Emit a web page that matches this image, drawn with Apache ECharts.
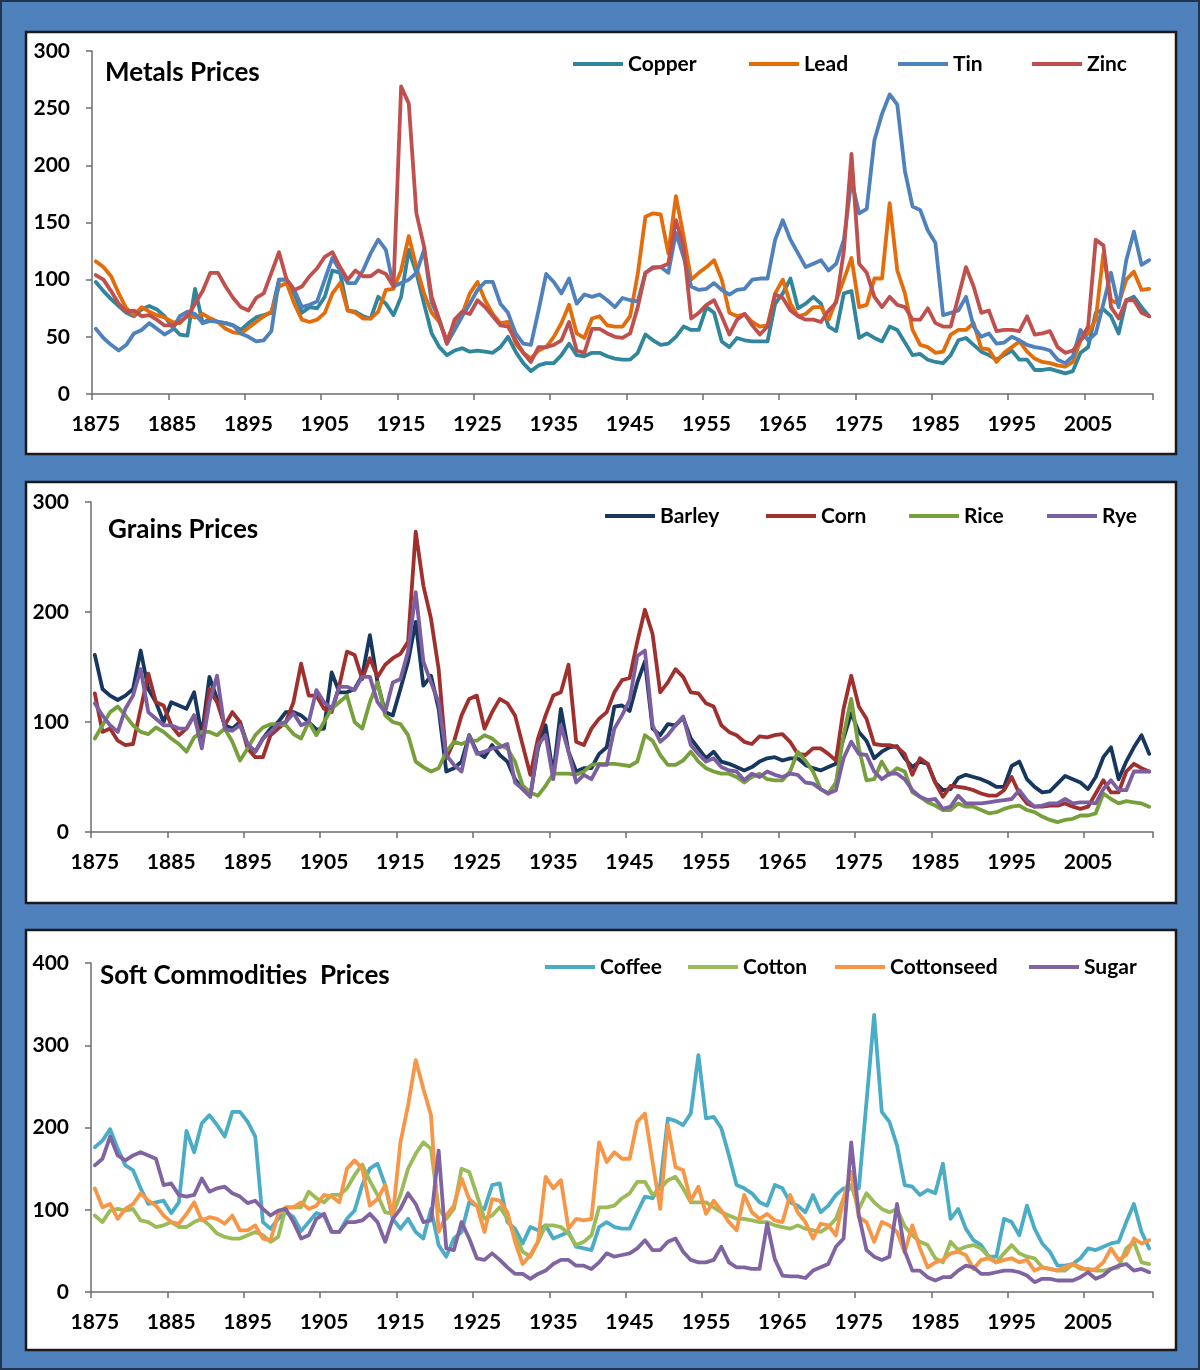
<!DOCTYPE html>
<html><head><meta charset="utf-8">
<script src="https://cdn.jsdelivr.net/npm/echarts@6/dist/echarts.min.js"></script>
<style>html,body{margin:0;padding:0;background:#4F81BD;}#c{width:1200px;height:1370px;}</style>
</head><body><div id="c"></div>
<script>
// ---- categories ----
const years = [];
for (let y = 1875; y <= 2013; y++) years.push(String(y));

// ---- Metals (rows of 10 years starting 1875) ----
const copper = [
98,90,83,77,71,68,74,77,74,68,
59,52,51,92,62,66,63,62,60,56,
62,67,69,71,100,100,88,71,76,75,
85,108,106,73,72,68,66,85,79,69,
85,126,106,79,53,41,34,38,40,37,
38,37,36,41,50,37,27,20,25,27,
27,34,44,34,33,36,36,33,31,30,
30,36,52,47,43,44,50,59,56,56,
76,71,46,41,49,47,46,46,46,79,
88,101,75,79,85,79,59,55,88,90,
49,53,49,46,59,56,45,34,35,30,
28,27,34,47,49,43,37,34,30,34,
38,30,30,21,21,22,20,18,20,36,
41,71,74,68,53,82,85,76,68];
const lead = [
116,111,103,88,75,69,76,72,69,67,
63,62,69,67,70,66,63,57,54,53,
58,63,68,72,94,97,79,65,63,65,
71,88,97,73,71,66,66,72,91,92,
108,138,111,88,71,63,47,62,70,88,
98,82,70,62,63,44,36,31,38,41,
50,62,78,53,49,66,68,60,59,59,
68,105,155,158,157,123,173,138,100,106,
111,117,100,71,68,70,63,59,60,88,
100,79,68,70,76,76,65,82,100,119,
76,78,101,101,167,108,88,56,43,41,
36,37,52,56,56,62,40,39,28,36,
41,46,37,31,28,27,25,24,28,47,
53,65,123,82,79,100,107,91,92];
const tin = [
57,49,43,38,43,53,56,62,57,52,
56,68,72,70,62,64,63,62,60,53,
50,46,47,55,100,100,91,76,78,81,
100,119,108,97,97,108,123,135,126,94,
97,100,106,126,80,65,44,56,68,79,
91,98,98,79,71,53,44,43,73,105,
98,88,101,79,87,85,87,82,76,84,
82,81,106,111,111,106,141,120,94,91,
92,97,91,87,91,92,100,101,101,135,
152,135,123,111,114,117,108,114,135,187,
158,162,222,245,262,253,195,164,161,143,
132,69,71,73,85,59,50,53,44,45,
50,47,43,41,40,38,30,27,33,56,
47,53,79,106,76,117,142,113,117];
const zinc = [
104,100,90,79,72,73,68,69,65,60,
60,63,68,79,90,106,106,94,84,76,
73,84,88,106,124,100,91,94,103,110,
120,124,111,100,108,103,103,108,105,94,
269,254,158,129,85,65,44,65,72,70,
82,76,68,60,59,47,36,28,41,41,
43,47,63,38,36,57,57,53,50,49,
53,76,106,110,111,114,152,129,66,71,
78,82,68,52,65,70,60,52,59,87,
84,73,68,65,65,63,73,80,125,210,
114,106,85,76,85,78,76,65,65,75,
62,59,59,85,111,94,71,73,55,56,
56,55,68,52,53,55,41,36,38,47,
59,135,130,76,66,82,82,71,68];

// ---- Grains ----
const barley = [
161,130,124,120,124,130,165,130,118,100,
118,115,112,127,88,141,121,97,94,100,
79,73,85,94,100,109,109,106,100,93,
94,145,127,127,130,142,179,136,109,106,
130,155,191,133,142,112,55,58,64,88,
73,68,79,70,64,48,39,33,76,97,
52,112,73,55,58,58,71,77,114,115,
110,136,155,94,88,98,97,104,85,76,
67,73,64,62,59,56,59,64,67,68,
65,67,67,61,58,56,59,62,85,108,
91,83,67,73,77,78,67,59,64,62,
45,38,39,49,52,50,48,45,41,41,
60,64,48,41,36,37,44,51,48,45,
39,50,68,77,48,64,77,88,71];
const corn = [
126,91,94,83,79,80,112,144,118,115,
97,88,94,106,82,130,118,97,109,100,
76,68,68,88,94,100,118,153,124,124,
112,109,133,164,161,139,158,141,152,158,
162,173,273,224,194,148,67,82,106,121,
124,94,109,121,117,106,79,52,85,106,
124,127,152,82,79,94,103,109,127,138,
140,173,202,180,127,136,148,141,127,126,
117,114,97,91,88,82,80,87,86,88,
89,82,71,70,76,76,71,65,112,142,
114,103,80,79,79,77,71,52,67,62,
45,32,42,41,40,38,35,33,33,38,
50,35,26,23,23,24,24,26,23,21,
23,35,47,36,36,55,62,58,55];
const rice = [
85,97,109,114,106,97,91,89,95,91,
85,80,73,86,91,91,88,94,82,65,
76,88,95,98,98,97,89,85,100,88,
100,112,118,124,100,94,118,136,106,100,
98,88,64,59,55,58,73,82,80,83,
83,88,85,79,76,64,42,36,33,42,
53,53,53,52,55,61,62,62,62,61,
60,64,88,83,70,61,61,65,73,64,
58,55,53,53,50,45,50,53,48,47,
47,55,73,65,55,39,35,45,88,121,
76,47,48,64,52,58,55,36,32,27,
24,20,20,26,23,23,20,17,18,21,
23,24,20,18,14,11,9,11,12,15,
15,17,35,30,26,28,27,26,23];
const rye = [
117,106,97,91,112,124,148,109,103,97,
97,94,94,106,76,118,142,94,92,97,
80,73,85,91,98,100,108,97,100,129,
118,112,132,132,129,141,141,118,109,136,
139,164,218,155,136,118,70,61,55,88,
71,73,76,77,80,45,39,32,79,88,
48,97,73,45,52,48,61,61,94,106,
120,160,165,97,82,88,97,105,79,71,
64,67,59,56,55,47,53,50,55,52,
50,53,52,45,44,39,35,38,67,82,
71,70,55,48,53,53,48,38,32,29,
30,21,23,33,26,26,26,27,28,29,
30,38,29,23,24,26,26,30,26,27,
27,26,39,47,38,38,55,55,55];

// ---- Soft commodities ----
const coffee = [
176,184,198,174,154,148,126,107,109,111,
96,109,196,170,205,215,203,189,219,219,
207,189,85,77,89,97,91,74,85,96,
93,73,73,89,99,130,150,156,130,89,
77,89,73,65,101,57,43,65,73,109,
105,101,130,132,85,77,59,79,75,81,
65,69,73,55,53,51,79,85,79,77,
77,97,116,114,130,211,208,203,217,288,
211,213,199,166,130,126,120,109,105,130,
126,109,105,97,118,97,105,118,126,126,
126,231,337,219,207,178,130,128,118,124,
120,156,89,101,77,63,57,43,43,89,
85,69,105,77,59,49,32,32,34,41,
53,51,55,59,61,85,107,73,53];
const cotton = [
93,85,99,101,99,101,87,85,79,81,
85,79,79,85,89,81,71,67,65,65,
69,73,69,61,67,103,103,103,122,114,
109,118,118,126,142,155,135,118,97,95,
118,150,168,182,174,101,89,101,150,146,
118,89,93,103,89,69,49,43,61,81,
81,79,71,57,61,69,103,103,105,114,
120,134,134,118,126,136,140,126,109,109,
109,103,97,93,89,89,87,85,85,81,
79,77,81,77,75,73,79,89,114,130,
101,120,109,101,97,101,80,69,61,57,
41,36,61,51,55,57,53,43,36,47,
57,47,43,41,30,28,26,26,34,28,
28,26,26,28,30,53,61,36,34];
const cottonseed = [
126,103,107,89,101,107,120,111,105,93,
85,83,95,109,87,91,89,83,93,75,
75,81,65,63,95,103,103,109,101,105,
118,116,109,150,160,150,105,113,130,93,
182,227,282,247,215,73,93,105,138,113,
105,73,113,111,97,61,34,45,61,140,
126,136,77,89,87,89,182,158,170,162,
162,207,217,158,101,203,152,148,111,128,
95,111,99,85,75,118,97,89,95,87,
85,118,97,85,65,83,81,69,114,146,
91,85,61,85,81,73,48,81,53,30,
36,39,47,49,45,28,39,41,36,39,
41,36,39,26,30,28,26,30,34,30,
26,28,36,53,39,45,65,59,63];
const sugar = [
154,162,189,166,160,166,170,166,162,130,
132,118,116,118,138,122,126,128,120,116,
108,111,101,93,99,101,85,65,69,89,
95,73,73,85,85,87,95,85,61,89,
101,120,107,85,87,172,53,51,85,65,
41,39,47,39,30,22,22,16,22,26,
34,39,39,32,32,28,36,47,43,45,
47,53,63,51,51,61,65,49,39,36,
36,39,55,36,30,30,28,28,83,40,
20,19,19,17,26,30,34,55,65,182,
93,51,43,39,43,107,50,26,26,18,
14,18,18,26,32,30,22,22,24,26,
26,24,20,12,16,16,14,14,14,18,
24,16,20,28,32,34,26,28,24];

// ---- panel definitions ----
const panelTitles = ['Metals Prices', 'Grains Prices', 'Soft Commodities  Prices'];
const yMax = [300, 300, 400];
const yStep = [50, 100, 100];

const seriesDefs = [
  {name:'Copper', data:copper, panel:0, color:'#31859C', lx:573},
  {name:'Lead', data:lead, panel:0, color:'#E46C0A', lx:749},
  {name:'Tin', data:tin, panel:0, color:'#4F81BD', lx:898},
  {name:'Zinc', data:zinc, panel:0, color:'#C0504D', lx:1032},
  {name:'Barley', data:barley, panel:1, color:'#17375E', lx:605},
  {name:'Corn', data:corn, panel:1, color:'#A0302E', lx:766},
  {name:'Rice', data:rice, panel:1, color:'#77A03C', lx:909},
  {name:'Rye', data:rye, panel:1, color:'#7B5FA0', lx:1047},
  {name:'Coffee', data:coffee, panel:2, color:'#4BACC6', lx:545},
  {name:'Cotton', data:cotton, panel:2, color:'#9BBB59', lx:688},
  {name:'Cottonseed', data:cottonseed, panel:2, color:'#F79646', lx:835},
  {name:'Sugar', data:sugar, panel:2, color:'#8064A2', lx:1029}
];

const FONT = 'Lato, "Open Sans", sans-serif';
const boxes = [{y:32,h:422},{y:482,h:421},{y:930,h:420}];
const grids = [
  {left:92, top:51, width:1061, height:343},
  {left:91, top:502, width:1062, height:330},
  {left:91, top:963, width:1062, height:329}
];
const titlePos = [{x:105,y:60},{x:108,y:517},{x:100,y:963}];
const legendY = [53, 505, 956];
const axisColor = '#6d6d6d';

const option = {
  animation: false,
  backgroundColor: '#4F81BD',
  graphic: boxes.map(b => ({
    type:'rect', silent:true, z:-10,
    shape:{x:26, y:b.y, width:1150, height:b.h},
    style:{fill:'#ffffff', stroke:'#1a1a1a', lineWidth:2.5}
  })).concat([{type:'rect', silent:true, z:-10,
    shape:{x:1,y:1,width:1198,height:1368},
    style:{fill:'none', stroke:'#22354f', lineWidth:2}}]),
  title: panelTitles.map((t,i) => ({
    text:t, left:titlePos[i].x, top:titlePos[i].y, padding:0,
    textStyle:{fontFamily:FONT, fontWeight:'bold', fontSize:26, lineHeight:26, color:'#000'}
  })),
  legend: seriesDefs.map(s => ({
    data:[s.name], left:s.lx, top:legendY[s.panel], padding:0,
    icon:'rect', itemWidth:50, itemHeight:4, selectedMode:false,
    textStyle:{fontFamily:FONT, fontWeight:'bold', fontSize:21, lineHeight:22, color:'#000'}
  })),
  grid: grids,
  xAxis: grids.map((g,i) => ({
    type:'category', gridIndex:i, data:years, boundaryGap:true,
    axisLine:{lineStyle:{color:axisColor, width:1.5}},
    axisTick:{show:true, interval:9, length:6, lineStyle:{color:axisColor, width:1.5}},
    axisLabel:{interval:9, margin:20, fontFamily:FONT, fontWeight:'bold', fontSize:21, color:'#000'},
    splitLine:{show:false}
  })),
  yAxis: grids.map((g,i) => ({
    type:'value', gridIndex:i, min:0, max:yMax[i], interval:yStep[i],
    axisLine:{show:true, lineStyle:{color:axisColor, width:1.5}},
    axisTick:{show:true, length:6, lineStyle:{color:axisColor, width:1.5}},
    axisLabel:{margin:22, fontFamily:FONT, fontWeight:'bold', fontSize:21, color:'#000'},
    splitLine:{show:false}
  })),
  series: seriesDefs.map(s => ({
    type:'line', name:s.name, data:s.data,
    xAxisIndex:s.panel, yAxisIndex:s.panel,
    symbol:'none', smooth:false,
    lineStyle:{width:3.8, color:s.color, cap:'round', join:'round'},
    itemStyle:{color:s.color},
    emphasis:{disabled:true}
  }))
};

const chart = echarts.init(document.getElementById('c'));
chart.setOption(option);
</script>
</body></html>
